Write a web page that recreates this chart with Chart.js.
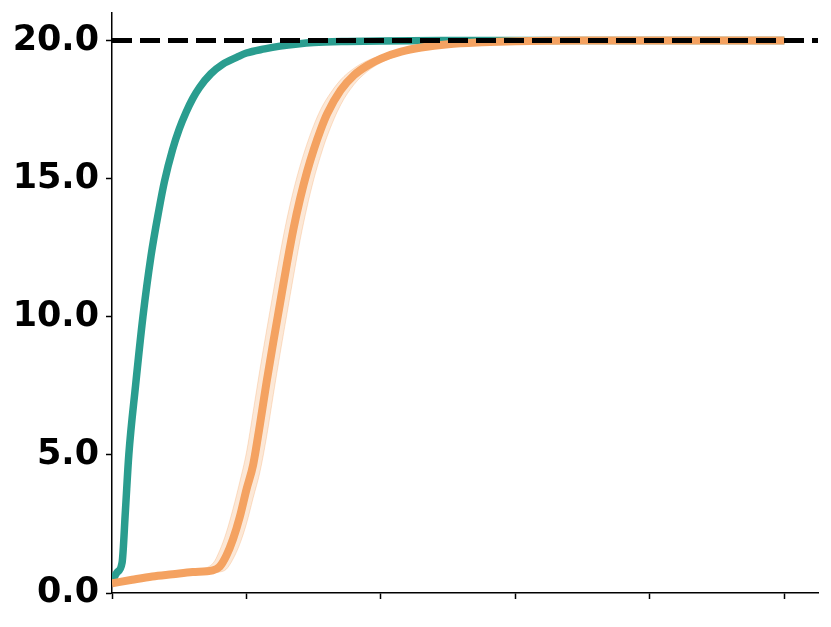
<!DOCTYPE html>
<html>
<head>
<meta charset="utf-8">
<script src="https://cdn.jsdelivr.net/npm/chart.js@4"></script>
<style>
  html, body { margin: 0; padding: 0; background: #fff; }
  #wrap { width: 831px; height: 627px; }
</style>
</head>
<body>
<div id="wrap"><canvas id="curveChart" width="831" height="627"></canvas></div>
<script>
// Greitai kylanti kreivė (žalsva)
const tealX = [0, 0.75, 1.5, 2.0, 2.5, 3.5, 4.6, 5.8, 7, 7.8, 9, 10, 11, 12, 13, 14.7, 16.5, 18.6, 20, 22.7, 25, 27.6, 30, 35, 40, 50, 60, 70, 80, 90, 100];
const tealY = [0.4, 0.75, 1.1, 3.0, 5.0, 7.5, 10.0, 12.2, 13.9, 14.9, 16.05, 16.8, 17.4, 17.9, 18.3, 18.8, 19.15, 19.4, 19.55, 19.7, 19.8, 19.88, 19.93, 19.97, 19.99, 20, 20, 20, 20, 20, 20];

// Vėluojanti kreivė (oranžinė) su sklaidos juosta
const orangeX = [0, 3, 6, 9, 12, 15, 16, 17, 18, 19, 20, 21, 22, 23, 24, 25, 26, 27, 28, 29, 30, 31, 32, 34, 36, 38, 40, 43, 46, 50, 55, 60, 70, 80, 90, 100];
const orangeMean = [0.35, 0.48, 0.6, 0.68, 0.76, 0.82, 0.95, 1.35, 1.95, 2.75, 3.75, 4.65, 6.1, 7.65, 9.1, 10.5, 11.9, 13.2, 14.3, 15.25, 16.05, 16.75, 17.35, 18.2, 18.75, 19.1, 19.35, 19.6, 19.75, 19.87, 19.94, 19.98, 20, 20, 20, 20];
const orangeUpper = [0.42, 0.54, 0.66, 0.74, 0.82, 1.07, 1.53, 2.19, 3.05, 4.02, 5.09, 6.57, 8.09, 9.52, 10.92, 12.29, 13.53, 14.59, 15.49, 16.26, 16.93, 17.49, 17.92, 18.58, 19.0, 19.28, 19.45, 19.68, 19.8, 19.9, 19.96, 20, 20, 20, 20, 20];
const orangeLower = [0.3, 0.42, 0.54, 0.62, 0.7, 0.74, 0.76, 0.86, 1.23, 1.77, 2.51, 3.45, 4.38, 5.67, 7.19, 8.67, 10.08, 11.48, 12.81, 13.97, 14.97, 15.81, 16.54, 17.67, 18.41, 18.89, 19.2, 19.5, 19.68, 19.82, 19.9, 19.95, 20, 20, 20, 20];

const targetValue = 20;
const xRange = [0, 105];
const yTicks = [0, 5, 10, 15, 20];
const xTicks = [0, 20, 40, 60, 80, 100];

const toPoints = (xs, ys) => xs.map((x, i) => ({ x: x, y: ys[i] }));

const TEAL = '#2a9d8f';
const ORANGE = '#f4a261';

const ctx = document.getElementById('curveChart').getContext('2d');
const chart = new Chart(ctx, {
    type: 'line',
    data: {
        datasets: [
            {
                label: 'Tikslas',
                data: [{ x: xRange[0], y: targetValue }, { x: xRange[1], y: targetValue }],
                borderColor: '#000',
                borderWidth: 5,
                borderDash: [20, 8],
                borderCapStyle: 'butt',
                pointRadius: 0,
                fill: false,
                order: 0
            },
            {
                label: 'Oranžinė',
                data: toPoints(orangeX, orangeMean),
                borderColor: ORANGE,
                borderWidth: 8,
                pointRadius: 0,
                cubicInterpolationMode: 'monotone',
                fill: false,
                order: 1
            },
            {
                label: 'Viršutinė riba',
                data: toPoints(orangeX, orangeUpper),
                borderColor: 'rgba(244,162,97,0.3)',
                backgroundColor: 'rgba(244,162,97,0.25)',
                borderWidth: 1,
                pointRadius: 0,
                cubicInterpolationMode: 'monotone',
                fill: '+1',
                order: 2
            },
            {
                label: 'Apatinė riba',
                data: toPoints(orangeX, orangeLower),
                borderColor: 'rgba(244,162,97,0.3)',
                borderWidth: 1,
                pointRadius: 0,
                cubicInterpolationMode: 'monotone',
                fill: false,
                order: 3
            },
            {
                label: 'Žalsva',
                data: toPoints(tealX, tealY),
                borderColor: TEAL,
                borderWidth: 7.5,
                pointRadius: 0,
                cubicInterpolationMode: 'monotone',
                fill: false,
                order: 4
            }
        ]
    },
    options: {
        responsive: false,
        animation: false,
        layout: { padding: { top: 13, right: 13, bottom: 0, left: 0 } },
        plugins: {
            legend: { display: false },
            tooltip: { enabled: false }
        },
        scales: {
            x: {
                type: 'linear',
                min: xRange[0],
                max: xRange[1],
                afterBuildTicks: s => { s.ticks = xTicks.map(v => ({ value: v })); },
                afterFit: s => { s.height = 34; s.paddingLeft = 0; s.paddingRight = 0; },
                ticks: { display: false },
                grid: { drawOnChartArea: false, color: '#000', tickLength: 6, tickWidth: 1.5 },
                border: { color: '#000', width: 1.5 }
            },
            y: {
                type: 'linear',
                min: 0,
                max: 21,
                afterBuildTicks: s => { s.ticks = yTicks.map(v => ({ value: v })); },
                afterFit: s => { s.width = 112; s.paddingTop = 0; s.paddingBottom = 0; },
                ticks: {
                    color: '#000',
                    padding: 7,
                    font: { family: 'DejaVu Sans', size: 35, weight: 'bold' },
                    callback: v => Number(v).toFixed(1)
                },
                grid: { drawOnChartArea: false, color: '#000', tickLength: 6, tickWidth: 1.5 },
                border: { color: '#000', width: 1.5 }
            }
        }
    }
});
</script>
</body>
</html>
